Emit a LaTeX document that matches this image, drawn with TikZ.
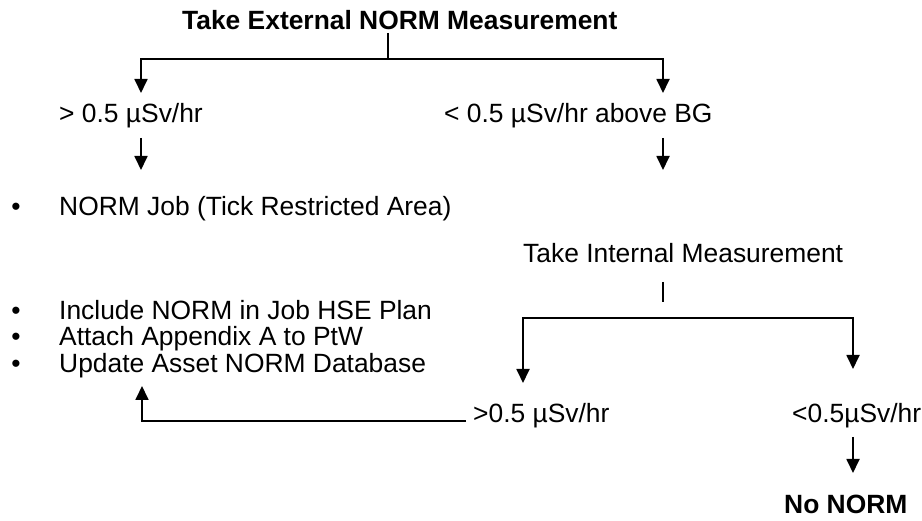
\documentclass[tikz,border=0pt]{standalone}
\usepackage{fontspec}
\setmainfont{Liberation Sans}
\usetikzlibrary{arrows.meta}
\begin{document}
\begin{tikzpicture}[x=1pt,y=-1pt,
  txt/.style={anchor=base west,inner sep=0pt,font=\fontsize{26.4}{30}\selectfont},
  btxt/.style={txt,font=\fontsize{26.4}{30}\selectfont\bfseries},
  bul/.style={anchor=base,inner sep=0pt,font=\fontsize{26.4}{30}\selectfont},
  ln/.style={line width=1.8pt},
  arr/.style={ln,-{Triangle[width=13pt,length=14pt]}}]
\useasboundingbox (0,0) rectangle (922,521);
% texts
\node[btxt] (title) at (182,30) {Take External NORM Measurement};
\node[txt] (gt) at (59,123) {> 0.5 µSv/hr};
\node[txt] (lt) at (444,123) {< 0.5 µSv/hr above BG};
\node[bul] (b1) at (16,216) {•};
\node[txt] (job) at (59,216) {NORM Job (Tick Restricted Area)};
\node[txt] (internal) at (523,263) {Take Internal Measurement};
\node[bul] (b2) at (16,320) {•};
\node[txt] (inc) at (59,320) {Include NORM in Job HSE Plan};
\node[bul] (b3) at (16,346) {•};
\node[txt] (att) at (59,346) {Attach Appendix A to PtW};
\node[bul] (b4) at (16,373) {•};
\node[txt] (upd) at (59,373) {Update Asset NORM Database};
\node[txt] (gt2) at (473,423) {>0.5 µSv/hr};
\node[txt] (lt2) at (792,423) {<0.5µSv/hr};
\node[btxt] (nonorm) at (784,513) {No NORM};
% connector points
\coordinate (s1) at (388,33);
\coordinate (j1) at (388,59);
\coordinate (aL) at (141,93);
\coordinate (aR) at (663,93);
\coordinate (cL1) at (141,138);
\coordinate (cL2) at (141,170);
\coordinate (cR1) at (663,138);
\coordinate (cR2) at (663,170);
\coordinate (s2a) at (663,282);
\coordinate (s2b) at (663,302);
\coordinate (j2) at (663,318);
\coordinate (bL) at (523,383);
\coordinate (bR) at (853,369);
\coordinate (d1) at (853,437);
\coordinate (d2) at (853,473);
\coordinate (f1) at (466,421);
\coordinate (f2) at (142,386);
% connectors
\draw[ln] (s1) -- (j1);
\draw[arr] (j1) -| (aL);
\draw[arr] (j1) -| (aR);
\draw[arr] (cL1) -- (cL2);
\draw[arr] (cR1) -- (cR2);
\draw[ln] (s2a) -- (s2b);
\draw[arr] (j2) -| (bL);
\draw[arr] (j2) -| (bR);
\draw[arr] (d1) -- (d2);
\draw[arr] (f1) -| (f2);
\end{tikzpicture}
\end{document}
